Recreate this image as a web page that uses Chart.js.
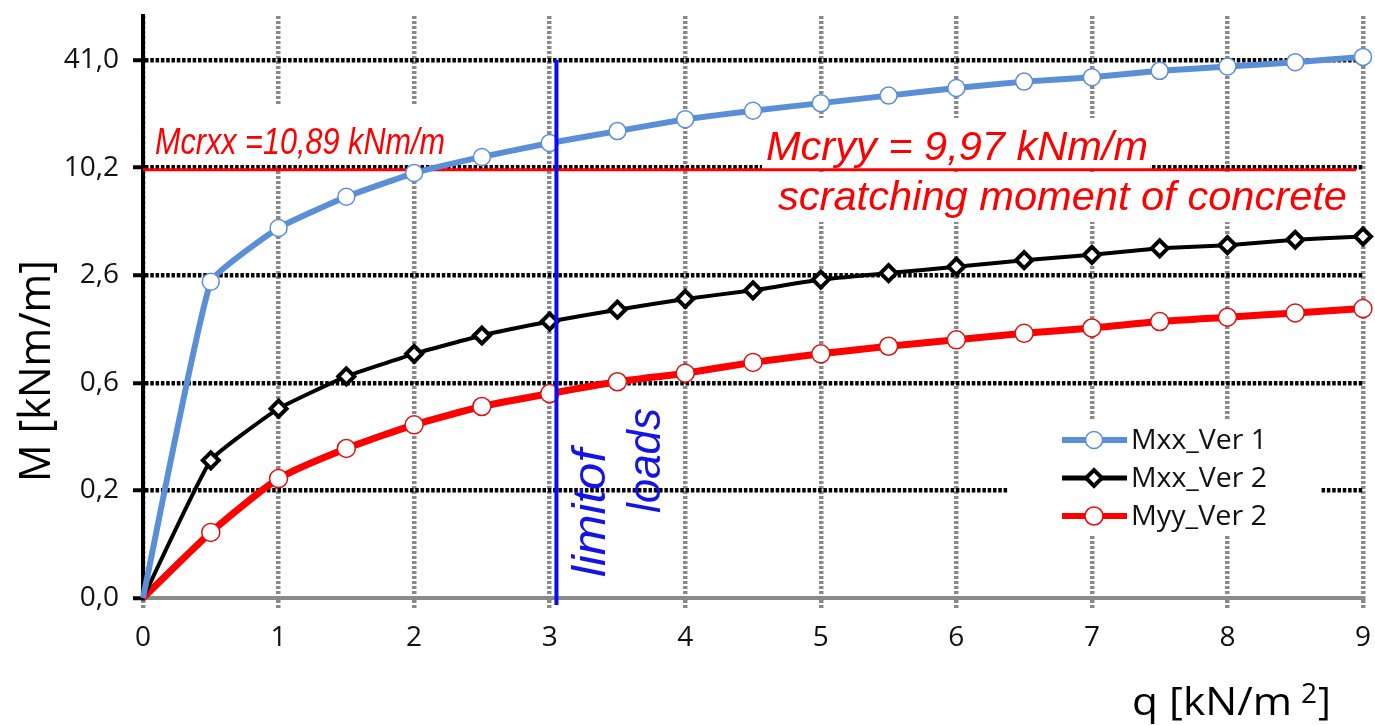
<!DOCTYPE html>
<html>
<head>
<meta charset="utf-8">
<script src="https://cdn.jsdelivr.net/npm/chart.js@4.4.1/dist/chart.umd.min.js"></script>
<style>
  html, body { margin: 0; padding: 0; background: #fff; }
  #wrap { width: 1375px; height: 725px; }
</style>
</head>
<body>
<div id="wrap"><canvas id="chart"></canvas></div>
<script>
// load q [kN/m2]
const qValues = [0, 0.5, 1, 1.5, 2, 2.5, 3, 3.5, 4, 4.5, 5, 5.5, 6, 6.5, 7, 7.5, 8, 8.5, 9];
// moments, read in axis steps (0 = "0,0", 1 = "0,2" ... 5 = "41,0")
const mxxVer1 = [0, 2.94, 3.44, 3.73, 3.95, 4.10, 4.23, 4.34, 4.45, 4.53, 4.60, 4.67, 4.74, 4.80, 4.84, 4.90, 4.94, 4.98, 5.03];
const mxxVer2 = [0, 1.28, 1.76, 2.06, 2.27, 2.44, 2.57, 2.68, 2.78, 2.86, 2.96, 3.02, 3.08, 3.14, 3.19, 3.25, 3.28, 3.33, 3.36];
const myyVer2 = [0, 0.61, 1.11, 1.39, 1.61, 1.78, 1.90, 2.01, 2.09, 2.19, 2.27, 2.34, 2.40, 2.46, 2.51, 2.57, 2.61, 2.65, 2.69];
const seriesNames = ["Mxx_Ver 1", "Mxx_Ver 2", "Myy_Ver 2"];
const yTickLabels = ["0,0", "0,2", "0,6", "2,6", "10,2", "41,0"];
const xTickValues = [0, 1, 2, 3, 4, 5, 6, 7, 8, 9];
const crackStep = 4;     // Mcr lines sit on the "10,2" step
const crackLineEnd = 8.95;
const limitLoad = 3.05;  // limit of loads

const BLUE = "#5a8fd8";
const RED = "#ff0000";
const GRID_GREY = "#8a8a8a";

function toPoints(vals) {
    return qValues.map((q, i) => ({ x: q, y: vals[i] }));
}

// draw text squeezed/stretched to a given width
function fitText(ctx, text, x, y, width) {
    let w = ctx.measureText(text).width;
    ctx.save();
    ctx.translate(x, y);
    ctx.scale(width / w, 1);
    ctx.fillText(text, 0, 0);
    ctx.restore();
}

function markerOpts(ds) {
    return { pointStyle: ds.pointStyle, radius: ds.pointRadius_legend, borderWidth: ds.pointBorderWidth, rotation: 0 };
}

const notes = {
    id: "notes",
    beforeDatasetsDraw(chart) {
        let ctx = chart.ctx;
        let x = chart.scales.x, y = chart.scales.y;
        let yCr = y.getPixelForValue(crackStep) + 2;
        ctx.save();

        // white boxes behind the labels
        ctx.fillStyle = "#fff";
        ctx.fillRect(150, 106, 298, 59);
        ctx.fillRect(762, 118, 388, 52);
        ctx.fillRect(770, 172, 588, 50);

        // cracking moment line
        ctx.strokeStyle = RED;
        ctx.lineWidth = 3;
        ctx.beginPath();
        ctx.moveTo(x.left, yCr);
        ctx.lineTo(x.getPixelForValue(crackLineEnd), yCr);
        ctx.stroke();

        ctx.fillStyle = RED;
        ctx.textBaseline = "alphabetic";
        ctx.textAlign = "left";
        ctx.font = 'italic 37px "Liberation Sans"';
        fitText(ctx, "Mcrxx =10,89 kNm/m", 155, 154, 290);
        ctx.font = 'italic 40px "Liberation Sans"';
        fitText(ctx, "Mcryy = 9,97 kNm/m", 766, 160, 382);
        fitText(ctx, "scratching moment of concrete", 778, 210, 569);

        // axis titles
        ctx.fillStyle = "#000";
        ctx.save();
        ctx.translate(50, 482);
        ctx.rotate(-Math.PI / 2);
        ctx.font = '44px "Open Sans"';
        fitText(ctx, "M [kNm/m]", 0, 0, 222);
        ctx.restore();

        ctx.font = '39px "Open Sans"';
        fitText(ctx, "q [kN/m", 1132, 715, 160);
        ctx.font = '28px "Open Sans"';
        ctx.fillText("2", 1301, 703);
        ctx.font = '39px "Open Sans"';
        ctx.fillText("]", 1318, 715);
        ctx.restore();
    },
    afterDatasetsDraw(chart) {
        let ctx = chart.ctx;
        let x = chart.scales.x, y = chart.scales.y;
        let xl = x.getPixelForValue(limitLoad);
        ctx.save();

        // limit of loads
        ctx.strokeStyle = "#0a0af5";
        ctx.lineWidth = 4;
        ctx.beginPath();
        ctx.moveTo(xl, y.getPixelForValue(5));
        ctx.lineTo(xl, y.bottom + 7);
        ctx.stroke();

        ctx.fillStyle = "#1414e6";
        ctx.textAlign = "left";
        ctx.textBaseline = "alphabetic";
        ctx.font = 'italic 47px "Liberation Sans"';
        ctx.save();
        ctx.translate(605, 577);
        ctx.rotate(-Math.PI / 2);
        fitText(ctx, "limitof", 0, 0, 128);
        ctx.restore();
        ctx.save();
        ctx.translate(660, 513);
        ctx.rotate(-Math.PI / 2);
        fitText(ctx, "loads", 0, 0, 105);
        ctx.restore();

        // legend
        ctx.fillStyle = "#fff";
        ctx.fillRect(1008, 420, 312, 115);
        chart.data.datasets.forEach((ds, i) => {
            let yy = 440 + i * 38;
            ctx.strokeStyle = ds.borderColor;
            ctx.lineWidth = i === 1 ? 5 : 6;
            ctx.beginPath();
            ctx.moveTo(1062, yy);
            ctx.lineTo(1127, yy);
            ctx.stroke();
            ctx.fillStyle = "#fff";
            ctx.lineWidth = ds.pointBorderWidth;
            Chart.helpers.drawPoint(ctx, markerOpts(ds), 1094, yy);
            ctx.fillStyle = "#111";
            ctx.font = '28px "Open Sans"';
            ctx.textBaseline = "middle";
            fitText(ctx, ds.label, 1131, yy + 1, 136);
        });
        ctx.restore();
    }
};

function hideFirst(r) {
    return ctx => ctx.dataIndex === 0 ? 0 : r;
}

new Chart(document.getElementById("chart"), {
    type: "line",
    data: {
        datasets: [
            {
                label: seriesNames[0],
                data: toPoints(mxxVer1),
                borderColor: BLUE,
                borderWidth: 6,
                pointStyle: "circle",
                pointRadius: hideFirst(8.5),
                pointRadius_legend: 8.5,
                pointBorderWidth: 1.5,
                pointBorderColor: BLUE,
                pointBackgroundColor: "#fff",
                tension: 0.12,
                clip: false
            },
            {
                label: seriesNames[1],
                data: toPoints(mxxVer2),
                borderColor: "#000",
                borderWidth: 4,
                pointStyle: "rectRot",
                pointRadius: hideFirst(8),
                pointRadius_legend: 8,
                pointBorderWidth: 4,
                pointBorderColor: "#000",
                pointBackgroundColor: "#fff",
                tension: 0.12,
                clip: false
            },
            {
                label: seriesNames[2],
                data: toPoints(myyVer2),
                borderColor: RED,
                borderWidth: 7,
                pointStyle: "circle",
                pointRadius: hideFirst(9),
                pointRadius_legend: 9,
                pointBorderWidth: 1.5,
                pointBorderColor: "#e01010",
                pointBackgroundColor: "#fff",
                tension: 0.2,
                clip: false
            }
        ]
    },
    options: {
        responsive: true,
        maintainAspectRatio: false,
        animation: false,
        layout: { padding: { top: 16, right: 11, left: 0, bottom: 0 } },
        plugins: {
            legend: { display: false },
            tooltip: { enabled: false }
        },
        scales: {
            x: {
                type: "linear",
                min: 0,
                max: 9,
                afterBuildTicks: s => { s.ticks = xTickValues.map(v => ({ value: v })); },
                afterFit: s => {
                    s.height = 127;
                    s.paddingLeft = 0;
                    s.paddingRight = 0;
                },
                grid: {
                    color: GRID_GREY,
                    lineWidth: 4.5,
                    borderDash: [3, 2],
                    tickLength: 12,
                    tickColor: GRID_GREY,
                    tickWidth: 4.5,
                    tickBorderDash: [3, 2]
                },
                border: { display: true, color: GRID_GREY, width: 4, dash: [3, 2] },
                ticks: {
                    color: "#111",
                    font: { family: "Open Sans", size: 28 },
                    padding: 11,
                    maxRotation: 0
                }
            },
            y: {
                type: "linear",
                min: 0,
                max: 5.41,
                afterBuildTicks: s => { s.ticks = yTickLabels.map((t, i) => ({ value: i })); },
                afterFit: s => {
                    s.width = 143;
                    s.paddingTop = 0;
                    s.paddingBottom = 0;
                },
                grid: {
                    color: c => (c.tick && c.tick.value === 0) ? "rgba(0,0,0,0)" : "#000",
                    lineWidth: 4.5,
                    borderDash: [3.5, 1.8],
                    tickLength: 10,
                    tickColor: "#000",
                    tickWidth: 4
                },
                border: { display: true, color: "#000", width: 4, dash: [3.5, 1.8] },
                ticks: {
                    callback: v => yTickLabels[v],
                    color: "#111",
                    font: { family: "Open Sans", size: 28 },
                    padding: 14
                }
            }
        }
    },
    plugins: [notes]
});
</script>
</body>
</html>
